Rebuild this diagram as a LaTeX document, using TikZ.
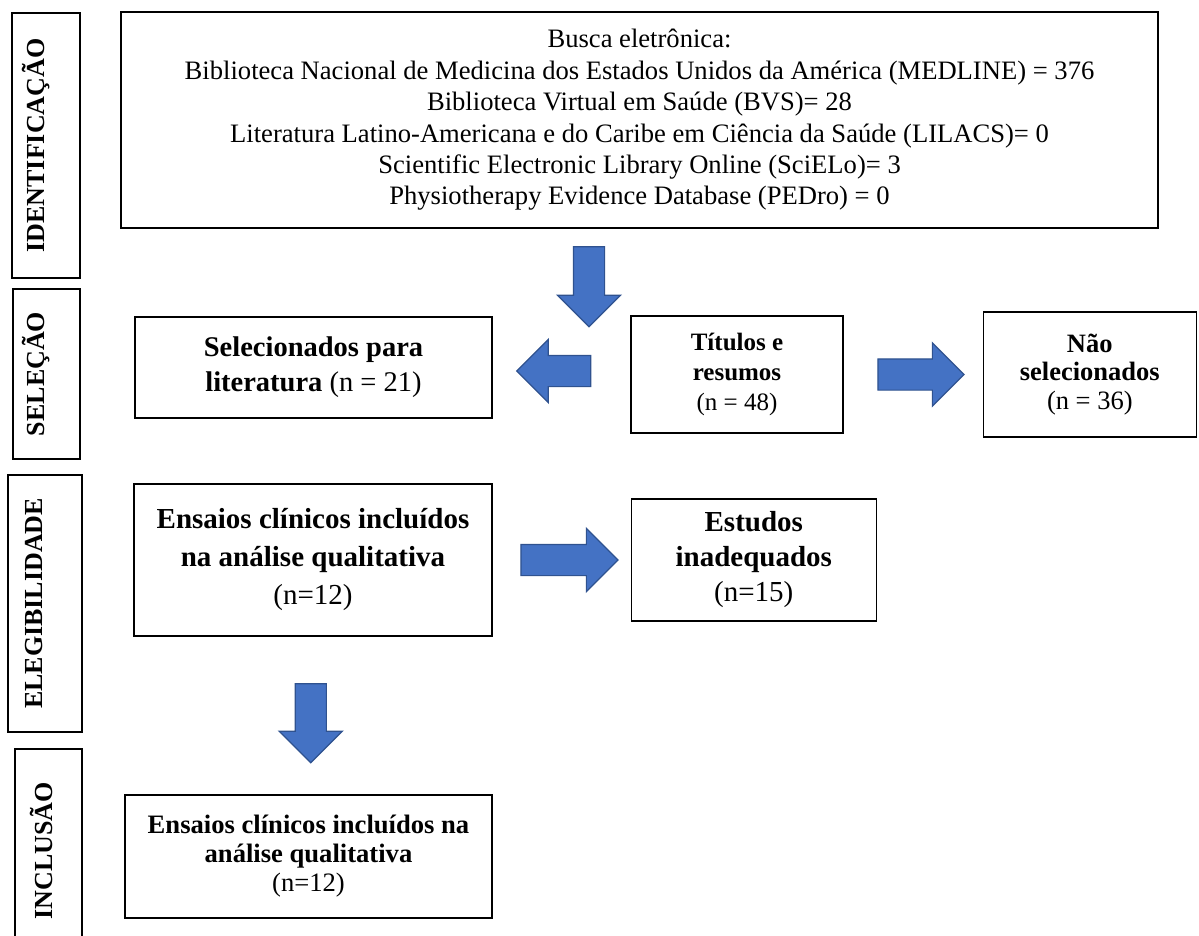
\documentclass[tikz,border=0pt]{standalone}
\usepackage{fontspec}
\setmainfont{Liberation Serif}
\usetikzlibrary{positioning, calc, shapes.arrows}
\definecolor{azul}{HTML}{4472C4}
\definecolor{azulborda}{HTML}{2F528F}
\tikzset{
  caixa/.style={
    draw=black,
    line width=1.3pt,
    align=center,
    inner sep=0pt
  },
  rotulo/.style={
    draw=black,
    line width=1.3pt,
    inner sep=0pt
  },
  rotulotexto/.style={
    rotate=90,
    inner sep=0pt,
    font=\fontsize{26}{30}\selectfont\bfseries
  },
  seta/.style={
    single arrow,
    fill=azul,
    draw=azulborda,
    line width=1.2pt,
    inner sep=15pt,
    single arrow head extend=16pt,
    minimum height=#1
  }
}

\begin{document}
\begin{tikzpicture}[x=1pt, y=-1pt]
    \useasboundingbox (0,0) rectangle (1199,935);
    % etapas (coluna da esquerda)
    \node (identificacao) [rotulo, minimum width=68pt, minimum height=265pt] at (46,145.5) {};
    \node (identificacaotxt) [rotulotexto] at ([xshift=-10pt]identificacao.center) {IDENTIFICAÇÃO};
    \node (selecao) [rotulo, minimum width=67pt, minimum height=170pt] at (46.5,374) {};
    \node (selecaotxt) [rotulotexto] at ([xshift=-10pt]selecao.center) {SELEÇÃO};
    \node (elegibilidade) [rotulo, minimum width=74pt, minimum height=257pt] at (45,603.5) {};
    \node (elegibilidadetxt) [rotulotexto] at ([xshift=-11pt]elegibilidade.center) {ELEGIBILIDADE};
    \node (inclusao) [rotulo, minimum width=67pt, minimum height=204pt] at (48.5,851) {};
    \node (inclusaotxt) [rotulotexto] at ([xshift=-7pt]inclusao.center) {INCLUSÃO};
    % fluxo
    \node (busca) [caixa, minimum width=1037pt, minimum height=216pt,
      font=\fontsize{26.6}{31.4}\selectfont] at (639.5,120) {Busca eletrônica:\\
      Biblioteca Nacional de Medicina dos Estados Unidos da América (MEDLINE) = 376\\
      Biblioteca Virtual em Saúde (BVS)= 28\\
      Literatura Latino-Americana e do Caribe em Ciência da Saúde (LILACS)= 0\\
      Scientific Electronic Library Online (SciELo)= 3\\
      Physiotherapy Evidence Database (PEDro) = 0};
    \node (titulos) [caixa, minimum width=212pt, minimum height=117pt,
      font=\fontsize{25}{30}\selectfont] at (737,374.5) {\textbf{Títulos e}\\
      \textbf{resumos}\\ (n = 48)};
    \node (selecionados) [caixa, minimum width=357pt, minimum height=101pt,
      font=\fontsize{28.5}{35}\selectfont] at (313.5,367.5) {\textbf{Selecionados para}\\
      \textbf{literatura} (n = 21)};
    \node (naosel) [caixa, minimum width=213pt, minimum height=125pt,
      font=\fontsize{26.5}{28.5}\selectfont, right=139pt of titulos] {\textbf{Não}\\
      \textbf{selecionados}\\ (n = 36)};
    \node (ensaios) [caixa, minimum width=358pt, minimum height=152pt,
      font=\fontsize{29}{38}\selectfont] at (313,560) {\textbf{Ensaios clínicos incluídos}\\
      \textbf{na análise qualitativa}\\ (n=12)};
    \node (estudos) [caixa, minimum width=245pt, minimum height=122pt,
      font=\fontsize{29}{35}\selectfont, right=138pt of ensaios] {\textbf{Estudos}\\
      \textbf{inadequados}\\ (n=15)};
    \node (incluidos) [caixa, minimum width=367pt, minimum height=123pt,
      font=\fontsize{26.6}{29}\selectfont] at (308.5,856.5) {\textbf{Ensaios clínicos incluídos na}\\
      \textbf{análise qualitativa}\\ (n=12)};
    % setas
    \node (seta1) [seta=80pt, shape border rotate=270] at (589,279) {};
    \node (seta2) [seta=74pt, shape border rotate=180] at ($(selecionados.east)!0.5!(titulos.west)$) {};
    \node (seta3) [seta=86pt] at ($(titulos.east)!0.5!(naosel.west)$) {};
    \node (seta4) [seta=97pt] at ($(ensaios.east)!0.5!(estudos.west)$) {};
    \node (seta5) [seta=79pt, shape border rotate=270] at ($(ensaios.south)!0.5!(incluidos.north)$) {};
\end{tikzpicture}
\end{document}
